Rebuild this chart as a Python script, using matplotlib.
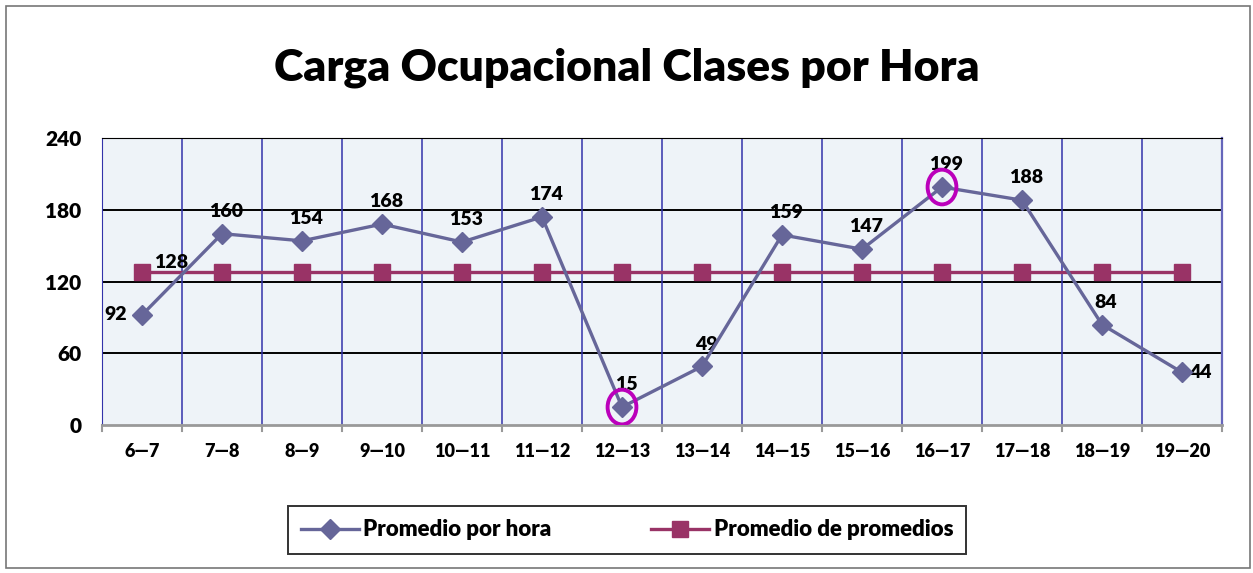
import matplotlib
matplotlib.use('Agg')
import matplotlib.pyplot as plt
from matplotlib.patches import Ellipse, Rectangle
import numpy as np

# --- data ---
horas = ['6\u20147', '7\u20148', '8\u20149', '9\u201410', '10\u201411', '11\u201412', '12\u201413',
         '13\u201414', '14\u201415', '15\u201416', '16\u201417', '17\u201418', '18\u201419', '19\u201420']
promedio_hora = [92, 160, 154, 168, 153, 174, 15, 49, 159, 147, 199, 188, 84, 44]
promedio_prom = [128] * 14
destacados = [6, 10]   # points circled in magenta

plt.rcParams['font.family'] = ['Lato', 'DejaVu Sans']
W = 'heavy'

fig = plt.figure(figsize=(12.53, 5.73), dpi=100)
ax = fig.add_axes([102/1253, 1-425/573, 1120/1253, 287/573])

x = np.arange(len(horas))
ax.set_facecolor('#EEF3F8')
ax.plot(x, promedio_hora, color='#666699', lw=2.4, marker='D', ms=10,
        label='Promedio por hora', zorder=4)
ax.plot(x, promedio_prom, color='#993366', lw=2.4, marker='s', ms=12,
        label='Promedio de promedios', zorder=3)

# data labels
for i, v in enumerate(promedio_hora):
    if i == 0:
        ax.annotate(str(v), (i, v), xytext=(-11, 0), textcoords='offset points',
                    ha='right', va='center', fontsize=14, fontweight=W)
    elif i == len(horas) - 1:
        ax.annotate(str(v), (i, v), xytext=(5, 0), textcoords='offset points',
                    ha='left', va='center', fontsize=14, fontweight=W)
    else:
        ax.annotate(str(v), (i, v), xytext=(3, 10), textcoords='offset points',
                    ha='center', va='bottom', fontsize=14, fontweight=W)
ax.annotate(str(promedio_prom[0]), (0, promedio_prom[0]), xytext=(9, 1),
            textcoords='offset points', ha='left', va='bottom',
            fontsize=14, fontweight=W)

for i in destacados:
    ax.add_patch(Ellipse((i, promedio_hora[i]), 0.36, 29, fill=False,
                         ec='#BB00BB', lw=2.8, zorder=6))

ax.set_xlim(-0.5, len(horas) - 0.5)
ax.set_ylim(0, 240)
ax.set_yticks([0, 60, 120, 180, 240])
ax.set_xticks(x)
ax.set_xticklabels(horas, fontsize=13, fontweight=W)
for lab in ax.get_yticklabels():
    lab.set_fontweight(W)
    lab.set_fontsize(15)
ax.tick_params(axis='x', length=0, pad=13)
ax.tick_params(axis='y', length=0, pad=15)

# grid: horizontal black, vertical blue at category boundaries
for yv in [60, 120, 180, 240]:
    ax.axhline(yv, color='black', lw=1.4, zorder=1)
for b in np.arange(0.5, len(horas) - 0.5, 1):
    ax.axvline(b, color='#3333AA', lw=1.1, zorder=1)
for b in np.arange(-0.5, len(horas), 1):
    ax.plot([b, b], [0, -5], color='#999999', lw=1.5, clip_on=False)
ax.spines['top'].set_color('black')
ax.spines['right'].set_color('#6666BB')
ax.spines['right'].set_linewidth(1.6)
ax.spines['left'].set_color('#3333AA')
ax.spines['bottom'].set_color('#999999')
ax.spines['bottom'].set_linewidth(2)

fig.text(0.5, 1-68/573, 'Carga Ocupacional Clases por Hora', ha='center', va='center',
         fontsize=32, fontweight=W)

leg = fig.legend(loc='center', bbox_to_anchor=(627/1253, 1-530/573), ncol=2,
                 frameon=True, fancybox=False, edgecolor='black',
                 prop={'weight': W, 'size': 16}, columnspacing=4.5,
                 handlelength=2.6, handletextpad=0.2, borderpad=0.6,
                 borderaxespad=0)
leg.get_frame().set_linewidth(1.4)

# outer frame
fig.patches.append(Rectangle((6/1253, 5/573), 1244/1253, 562/573, transform=fig.transFigure,
                             fill=False, ec='#777777', lw=1.2))

plt.savefig('out.png', dpi=100)
